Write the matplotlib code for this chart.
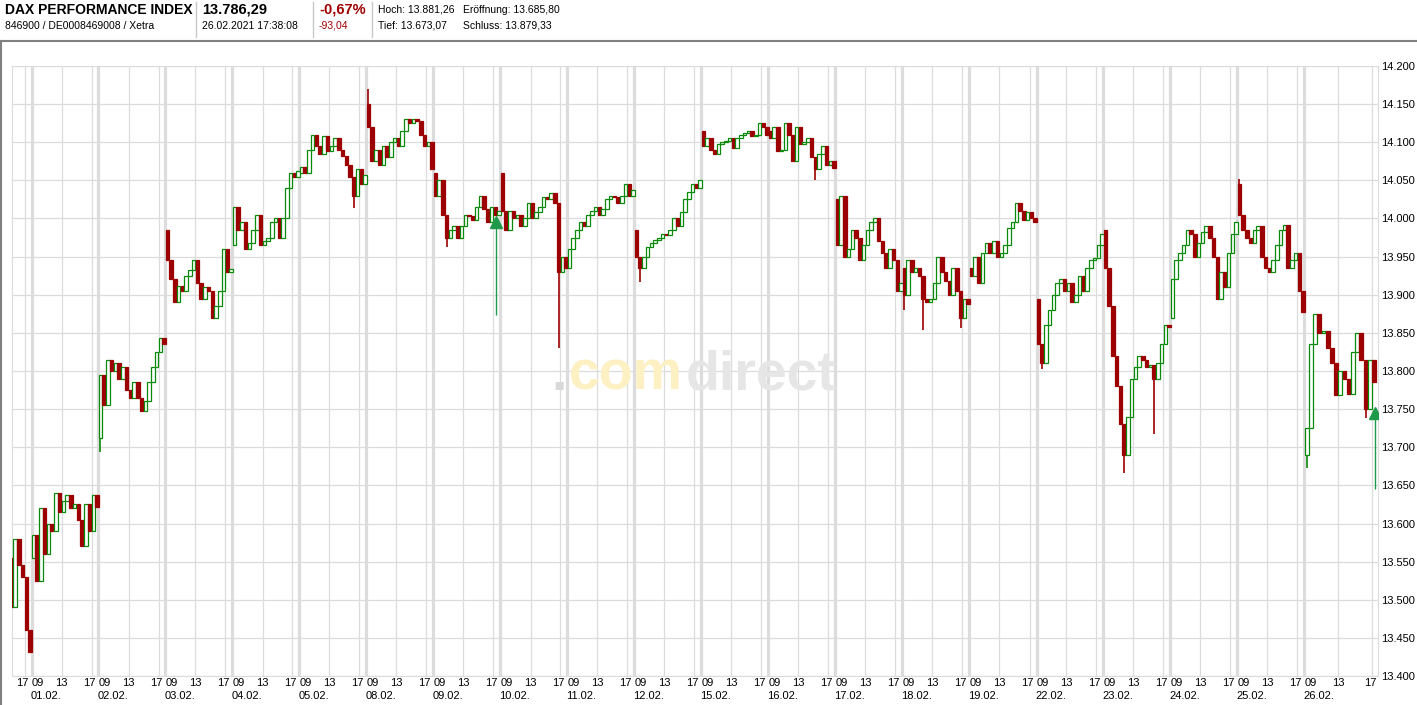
import matplotlib
matplotlib.use('Agg')
import matplotlib.pyplot as plt
from matplotlib.transforms import blended_transform_factory

plt.rcParams['font.family'] = ['Liberation Sans', 'DejaVu Sans']

# trading days on the chart (29.01. is only partly visible on the left)
days = ['01.02.', '02.02.', '03.02.', '04.02.', '05.02.', '08.02.', '09.02.',
        '10.02.', '11.02.', '12.02.', '15.02.', '16.02.', '17.02.', '18.02.',
        '19.02.', '22.02.', '23.02.', '24.02.', '25.02.', '26.02.']

# half-hour prices: first value = open of the day, then each candle close
fri_2901 = [13555, 13490, 13580, 13545, 13530, 13460, 13432]   # from 15:00
d0102 = [13555, 13585, 13525, 13620, 13560, 13600, 13590, 13640, 13615, 13630,
         13638, 13620, 13625, 13605, 13570, 13625, 13590, 13638, 13622]
d0202 = [13712, 13795, 13755, 13815, 13800, 13810, 13790, 13805, 13775, 13765,
         13785, 13765, 13748, 13760, 13785, 13805, 13825, 13843, 13835]
d0302 = [13985, 13945, 13920, 13890, 13912, 13905, 13925, 13932, 13945, 13915,
         13895, 13910, 13905, 13870, 13885, 13905, 13960, 13930, 13934]
d0402 = [13965, 14015, 13985, 13995, 13960, 13968, 13985, 14005, 13965, 13970,
         13975, 13995, 14000, 13975, 14000, 14040, 14060, 14055, 14062]
d0502 = [14060, 14068, 14060, 14090, 14110, 14095, 14085, 14108, 14088, 14095,
         14105, 14090, 14082, 14070, 14055, 14030, 14065, 14045, 14057]
d0802 = [14150, 14120, 14075, 14090, 14070, 14095, 14080, 14100, 14105, 14095,
         14115, 14130, 14125, 14130, 14128, 14110, 14095, 14100, 14065]
d0902 = [14060, 14030, 14050, 14005, 13975, 13985, 13990, 13975, 13990, 14005,
         14003, 13998, 14015, 14030, 14012, 13995, 14015, 14005, 14010]
d1002 = [14060, 14010, 13985, 14010, 14000, 14005, 13990, 14000, 14020, 14000,
         14008, 14015, 14028, 14025, 14033, 14020, 13930, 13950, 13935]
d1102 = [13935, 13960, 13975, 13985, 13995, 13990, 14005, 14010, 14015, 14005,
         14012, 14025, 14030, 14028, 14020, 14030, 14045, 14030, 14038]
d1202 = [13985, 13950, 13935, 13950, 13962, 13968, 13972, 13975, 13980, 13978,
         13985, 14000, 13990, 14008, 14025, 14035, 14045, 14040, 14050]
d1502 = [14115, 14095, 14105, 14090, 14085, 14098, 14100, 14102, 14105, 14092,
         14105, 14110, 14112, 14115, 14108, 14110, 14125, 14120, 14110]
d1602 = [14115, 14105, 14120, 14088, 14090, 14125, 14110, 14075, 14120, 14098,
         14100, 14105, 14080, 14065, 14085, 14095, 14070, 14075, 14066]
d1702 = [14025, 13965, 14030, 13950, 13960, 13985, 13975, 13945, 13965, 13985,
         13995, 14000, 13970, 13955, 13935, 13960, 13945, 13905, 13915]
d1802 = [13935, 13900, 13945, 13930, 13935, 13925, 13895, 13890, 13895, 13915,
         13950, 13930, 13918, 13900, 13935, 13905, 13870, 13895, 13888]
d1902 = [13935, 13925, 13950, 13915, 13955, 13968, 13955, 13970, 13950, 13955,
         13965, 13988, 13995, 14020, 14010, 13998, 14008, 14000, 13995]
d2202 = [13895, 13835, 13810, 13860, 13880, 13900, 13915, 13920, 13905, 13915,
         13890, 13900, 13925, 13905, 13935, 13945, 13948, 13965, 13980]
d2302 = [13985, 13935, 13885, 13820, 13780, 13730, 13690, 13740, 13790, 13805,
         13820, 13815, 13805, 13808, 13790, 13810, 13835, 13860, 13858]
d2402 = [13870, 13920, 13945, 13955, 13965, 13985, 13980, 13950, 13968, 13982,
         13990, 13975, 13950, 13895, 13930, 13910, 13955, 13980, 13995]
d2502 = [14045, 14005, 13985, 13975, 13968, 13985, 13990, 13950, 13935, 13930,
         13945, 13965, 13985, 13992, 13935, 13945, 13955, 13905, 13878]
d2602 = [13690, 13725, 13835, 13875, 13850, 13852, 13830, 13810, 13768, 13800,
         13790, 13770, 13825, 13850, 13815, 13750, 13815, 13786]

series = [d0102, d0202, d0302, d0402, d0502, d0802, d0902, d1002, d1102, d1202,
          d1502, d1602, d1702, d1802, d1902, d2202, d2302, d2402, d2502, d2602]

# wick spikes: (day index, candle, high, low)
spikes = [(1, 0, None, 13694), (4, 14, None, 14014), (5, 0, 14170, None),
          (6, 3, None, 13963), (7, 15, None, 13830), (9, 1, None, 13917),
          (11, 12, None, 14050), (13, 0, None, 13880), (13, 5, None, 13854),
          (13, 15, None, 13856), (15, 1, None, 13803), (16, 5, None, 13666),
          (16, 13, None, 13718), (18, 0, 14052, None), (19, 0, None, 13673),
          (19, 14, None, 13738)]

# signal arrows: (day index, hours after 09:00, tip, foot)
arrows = [(6, 8.33, 14000, 13873), (19, 8.4, 13750, 13645)]

yticks = [13400, 13450, 13500, 13550, 13600, 13650, 13700, 13750, 13800,
          13850, 13900, 13950, 14000, 14050, 14100, 14150, 14200]

RED = '#9c0000'
GREEN = '#0a8a0a'
GRID = '#dcdcdc'
DAY_W = 67.0


def hour_w(d):
    # the running day is drawn a bit wider
    return 8.42 if d == len(days) - 1 else 7.5


def xpos(d, h):
    return d * DAY_W + h * hour_w(d)


fig = plt.figure(figsize=(14.17, 7.05), dpi=100)
W, H = 1417, 705
ax = fig.add_axes([11.5 / W, 1 - 676 / H, (1378 - 11.5) / W, (676 - 66) / H])
ax.set_xlim(-20, 1346.5)
ax.set_ylim(13400, 14200)

# grid
for y in yticks:
    ax.axhline(y, color=GRID, lw=0.9, zorder=0)
ax.axvline(xpos(-1, 8), color=GRID, lw=0.9, zorder=0)
for d in range(len(days)):
    ax.axvline(xpos(d, 0), color=GRID, lw=2.3, zorder=0)
    ax.axvline(xpos(d, 4), color=GRID, lw=0.9, zorder=0)
    ax.axvline(xpos(d, 8), color=GRID, lw=0.9, zorder=0)
for s in ax.spines.values():
    s.set_color(GRID)

# candles
def draw_day(d, vals, first_slot=0):
    hw = hour_w(d)
    xs, bottoms, heights, cols, faces = [], [], [], [], []
    for i in range(len(vals) - 1):
        o, c = vals[i], vals[i + 1]
        k = first_slot + i
        xs.append(xpos(d, 0.5 * k + 0.25))
        bottoms.append(min(o, c))
        heights.append(max(abs(c - o), 0.8))
        up = c >= o
        cols.append(GREEN if up else RED)
        faces.append('white' if up else RED)
    ax.bar(xs, heights, bottom=bottoms, width=0.46 * hw, color=faces,
           edgecolor=cols, linewidth=0.9, zorder=3)


draw_day(-1, fri_2901, first_slot=12)
for d, vals in enumerate(series):
    draw_day(d, vals)

for d, k, hi, lo in spikes:
    vals = series[d]
    o, c = vals[k], vals[k + 1]
    col = GREEN if c >= o else RED
    x = xpos(d, 0.5 * k + 0.25)
    top = hi if hi is not None else max(o, c)
    bot = lo if lo is not None else min(o, c)
    ax.vlines(x, bot, top, color=col, lw=1.2, zorder=2)

for d, h, tip, foot in arrows:
    x = xpos(d, h)
    ax.vlines(x, foot, tip - 8, color='#1f9a4a', lw=1, zorder=4)
    ax.plot([x], [tip - 5], marker='^', ms=8, color='#1f9a4a', zorder=4)

# y axis on the right
ax.yaxis.tick_right()
ax.set_yticks(yticks)
ax.set_yticklabels([f'{v:,}'.replace(',', '.') for v in yticks], fontsize=8)
ax.tick_params(axis='y', length=0, pad=2)
ax.set_xticks([])

# x labels
tr = blended_transform_factory(ax.transData, ax.transAxes)
ty1, ty2 = -0.004, -0.025
fs = 8
ax.text(xpos(-1, 8) - 2, ty1, '17', transform=tr, ha='center', va='top', fontsize=fs)
for d, lab in enumerate(days):
    ax.text(xpos(d, 0) + 0.5, ty1, '09', transform=tr, ha='left', va='top', fontsize=fs)
    ax.text(xpos(d, 4), ty1, '13', transform=tr, ha='center', va='top', fontsize=fs)
    ax.text(xpos(d, 8) - 2, ty1, '17', transform=tr, ha='center', va='top', fontsize=fs)
    ax.text(xpos(d, 0) - 1, ty2, lab, transform=tr, ha='left', va='top', fontsize=fs)

# watermark
fig.text(551 / W, 1 - 390 / H, '.', color='#d8d8d8', fontsize=40,
         fontweight='bold', ha='left', va='baseline', zorder=1)
fig.text(683 / W, 1 - 390 / H, 'com', color='#fdf0c2', fontsize=40,
         fontweight='bold', ha='right', va='baseline', zorder=1)
fig.text(686 / W, 1 - 390 / H, 'direct', color='#e6e6e6', fontsize=40,
         fontweight='bold', ha='left', va='baseline', zorder=1)

# header
def htxt(x, y, s, **kw):
    fig.text(x / W, 1 - y / H, s, va='center', ha='left', **kw)

htxt(5, 10, 'DAX PERFORMANCE INDEX', fontsize=10, fontweight='bold')
htxt(5, 26, '846900 / DE0008469008 / Xetra', fontsize=7.5)
htxt(202, 10, '13.786,29', fontsize=10.5, fontweight='bold')
htxt(202, 26, '26.02.2021 17:38:08', fontsize=7.5)
htxt(319, 10, '-0,67%', fontsize=10.5, fontweight='bold', color='#a00000')
htxt(319, 26, '-93,04', fontsize=7.5, color='#a00000')
htxt(378, 10, 'Hoch: 13.881,26', fontsize=7.5)
htxt(463, 10, 'Eröffnung: 13.685,80', fontsize=7.5)
htxt(378, 26, 'Tief: 13.673,07', fontsize=7.5)
htxt(463, 26, 'Schluss: 13.879,33', fontsize=7.5)
for xs in (196, 313, 372):
    fig.add_artist(plt.Line2D([xs / W, xs / W], [1 - 2 / H, 1 - 37 / H],
                              color='#c8c8c8', lw=1))
fig.add_artist(plt.Line2D([0, 1], [1 - 40.5 / H, 1 - 40.5 / H], color='#808080', lw=1.5))
fig.add_artist(plt.Line2D([1 / W, 1 / W], [0, 1 - 40.5 / H], color='#808080', lw=1.5))

fig.savefig('out.png', dpi=100)
